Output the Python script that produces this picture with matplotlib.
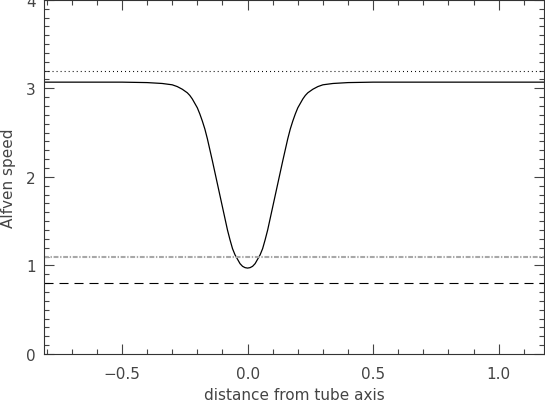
import matplotlib
matplotlib.use("Agg")
import matplotlib.pyplot as plt
from matplotlib.ticker import MultipleLocator, FuncFormatter

# profile of the Alfven speed across the tube
dist = [-0.81, -0.50, -0.40, -0.34, -0.30, -0.28, -0.26, -0.24, -0.23, -0.22,
        -0.21, -0.20, -0.19, -0.18, -0.17, -0.16, -0.14, -0.12, -0.10, -0.08,
        -0.07, -0.06, -0.05, -0.04, -0.03, -0.02, -0.01, 0.00,
        0.01, 0.02, 0.03, 0.04, 0.05, 0.06, 0.07, 0.08, 0.10, 0.12,
        0.14, 0.16, 0.17, 0.18, 0.19, 0.20, 0.21, 0.22, 0.23, 0.24,
        0.26, 0.28, 0.30, 0.34, 0.40, 0.50, 1.18]
speed = [3.07, 3.07, 3.065, 3.055, 3.04, 3.02, 2.99, 2.95, 2.92, 2.88,
         2.83, 2.78, 2.71, 2.63, 2.54, 2.43, 2.18, 1.92, 1.66, 1.40,
         1.29, 1.19, 1.12, 1.07, 1.02, 0.99, 0.975, 0.97,
         0.975, 0.99, 1.02, 1.07, 1.12, 1.19, 1.29, 1.40, 1.66, 1.92,
         2.18, 2.43, 2.54, 2.63, 2.71, 2.78, 2.83, 2.88, 2.92, 2.95,
         2.99, 3.02, 3.04, 3.055, 3.065, 3.07, 3.07]

# reference levels
level_dotted = 3.20
level_dashdot = 1.10
level_dashed = 0.80

x_range = (-0.81, 1.18)
y_range = (0.0, 4.0)

plt.rcParams['lines.scale_dashes'] = False
plt.rcParams['font.family'] = ['DejaVu Sans']

fig = plt.figure(figsize=(5.45, 4.02), dpi=100)
ax = fig.add_axes([0.081, 0.117, 0.917, 0.881])

ax.plot(dist, speed, color='black', lw=0.9)
ax.axhline(level_dotted, color='black', lw=0.8, dashes=(0.7, 2.2))
ax.axhline(level_dashdot, color='#a8a8a8', lw=1.5, dashes=(3.5, 1.2, 1.0, 1.2))
ax.axhline(level_dashed, color='black', lw=0.8, dashes=(6.5, 4.3))

ax.set_xlim(*x_range)
ax.set_ylim(*y_range)

ax.xaxis.set_major_locator(MultipleLocator(0.5))
ax.xaxis.set_minor_locator(MultipleLocator(0.1))
ax.yaxis.set_major_locator(MultipleLocator(1))
ax.yaxis.set_minor_locator(MultipleLocator(0.1))
ax.xaxis.set_major_formatter(FuncFormatter(lambda v, p: ('%.1f' % v).replace('-', '\u2212')))
ax.yaxis.set_major_formatter(FuncFormatter(lambda v, p: '%d' % round(v)))

ax.tick_params(which='both', direction='in', top=True, right=True,
               color='#444444', width=0.8, labelsize=11, labelcolor='#444444')
ax.tick_params(which='major', length=7, pad=9)
ax.tick_params(axis='y', which='major', pad=6)
ax.tick_params(which='minor', length=3.5)
for s in ax.spines.values():
    s.set_color('#333333')
    s.set_linewidth(0.8)

ax.set_xlabel('distance from tube axis', fontsize=11, color='#444444', labelpad=4)
ax.set_ylabel('Alfven speed', fontsize=11, color='#444444', labelpad=7)

fig.savefig('out.png', dpi=100)
